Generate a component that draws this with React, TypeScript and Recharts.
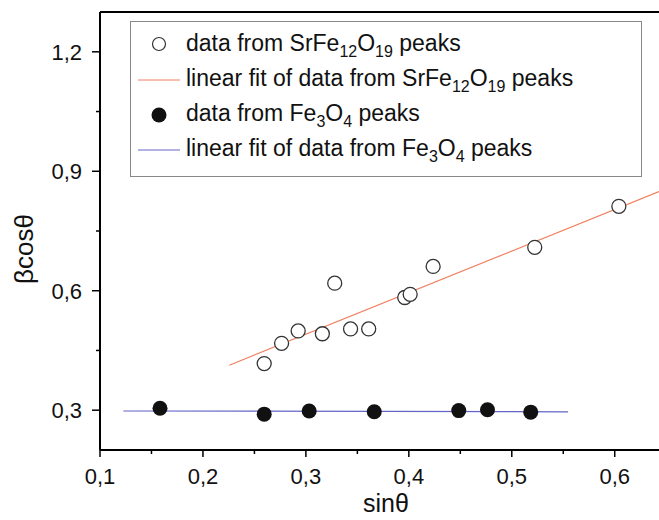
import React from "react";
import {
  ComposedChart,
  Scatter,
  XAxis,
  YAxis,
  ReferenceLine,
  Legend,
} from "recharts";

// SrFe12O19 peaks (open circles)
const srX = [0.2595, 0.2764, 0.2925, 0.316, 0.328, 0.3434, 0.361, 0.396, 0.4013, 0.4236, 0.5223, 0.604];
const srY = [0.417, 0.468, 0.499, 0.492, 0.619, 0.504, 0.504, 0.583, 0.591, 0.661, 0.709, 0.812];

// Fe3O4 peaks (filled circles)
const feX = [0.1583, 0.2595, 0.3032, 0.3664, 0.4485, 0.4764, 0.5184];
const feY = [0.305, 0.29, 0.298, 0.296, 0.299, 0.301, 0.295];

// linear fits (end points)
const srFitX = [0.2256, 0.643];
const srFitY = [0.413, 0.849];
const feFitX = [0.1227, 0.5547];
const feFitY = [0.298, 0.296];

const xTicks = [0.1, 0.15, 0.2, 0.25, 0.3, 0.35, 0.4, 0.45, 0.5, 0.55, 0.6];
const yTicks = [0.3, 0.45, 0.6, 0.75, 0.9, 1.05, 1.2];

const FONT = "'Liberation Sans', Arial, sans-serif";
const RED = "#f08060";
const BLUE = "#6464c8";

const toPts = (xs: number[], ys: number[]) => xs.map((x, i) => ({ x, y: ys[i] }));

const srData = toPts(srX, srY);
const feData = toPts(feX, feY);
const srFit = toPts(srFitX, srFitY);
const feFit = toPts(feFitX, feFitY);

const fmt = (v: number) => v.toFixed(1).replace(".", ",");

function XTick(props: any) {
  const { x, y, payload } = props;
  const major = Math.round(payload.value * 100) % 10 === 0;
  return (
    <g>
      <line x1={x} x2={x} y1={y} y2={y + (major ? 7 : 4)} stroke="#000" strokeWidth={1.5} />
      {major && (
        <text x={x} y={y + 34} textAnchor="middle" fontSize={22} fontFamily={FONT} fill="#111">
          {fmt(payload.value)}
        </text>
      )}
    </g>
  );
}

function YTick(props: any) {
  const { x, y, payload } = props;
  const major = Math.round(payload.value * 100) % 30 === 0;
  return (
    <g>
      <line x1={x - (major ? 8 : 4)} x2={x} y1={y} y2={y} stroke="#000" strokeWidth={1.5} />
      {major && (
        <text x={x - 18} y={y + 8} textAnchor="end" fontSize={22} fontFamily={FONT} fill="#111">
          {fmt(payload.value)}
        </text>
      )}
    </g>
  );
}

const OpenDot = (p: any) => (
  <circle cx={p.cx} cy={p.cy} r={7} fill="#fff" stroke="#333" strokeWidth={1.3} />
);
const FilledDot = (p: any) => <circle cx={p.cx} cy={p.cy} r={7.5} fill="#111" />;
const NoDot = () => <g />;

function Label({ x, y, parts }: { x: number; y: number; parts: [string, boolean][] }) {
  return (
    <text x={x} y={y} fontSize={23} fontFamily={FONT} fill="#111">
      {parts.map(([t, sub], i) => (
        <tspan
          key={i}
          fontSize={sub ? 16 : 23}
          dy={i === 0 ? 0 : sub ? 6 : parts[i - 1][1] ? -6 : 0}
        >
          {t}
        </tspan>
      ))}
    </text>
  );
}

function LegendBox() {
  return (
    <svg width={512} height={156} style={{ display: "block" }}>
      <rect x={0.5} y={0.5} width={511} height={155} fill="#fff" stroke="#888" />
      <circle cx={29} cy={23} r={6.5} fill="#fff" stroke="#333" strokeWidth={1.2} />
      <Label x={56} y={30} parts={[["data from SrFe", false], ["12", true], ["O", false], ["19", true], [" peaks", false]]} />
      <line x1={8} x2={50} y1={59} y2={59} stroke={RED} strokeWidth={1} />
      <Label
        x={56}
        y={65}
        parts={[["linear fit of data from SrFe", false], ["12", true], ["O", false], ["19", true], [" peaks", false]]}
      />
      <circle cx={29} cy={94} r={7.5} fill="#111" />
      <Label x={56} y={100} parts={[["data from Fe", false], ["3", true], ["O", false], ["4", true], [" peaks", false]]} />
      <line x1={8} x2={50} y1={129} y2={129} stroke={BLUE} strokeWidth={1} />
      <Label
        x={56}
        y={135}
        parts={[["linear fit of data from Fe", false], ["3", true], ["O", false], ["4", true], [" peaks", false]]}
      />
    </svg>
  );
}

export default function App() {
  return (
    <div style={{ position: "absolute", left: 0, top: 0, width: 659, height: 520, background: "#fff" }}>
      <ComposedChart width={659} height={520} margin={{ top: 12, right: 0, bottom: 0, left: 0 }}>
        <XAxis
          type="number"
          dataKey="x"
          domain={[0.1, 0.643]}
          allowDataOverflow
          ticks={xTicks}
          interval={0}
          height={70}
          tickSize={0}
          tickMargin={0}
          tickLine={false}
          axisLine={{ stroke: "#000", strokeWidth: 2 }}
          tick={<XTick />}
        />
        <YAxis
          type="number"
          dataKey="y"
          domain={[0.2, 1.3]}
          allowDataOverflow
          ticks={yTicks}
          interval={0}
          width={100}
          tickSize={0}
          tickMargin={0}
          tickLine={false}
          axisLine={{ stroke: "#000", strokeWidth: 2 }}
          tick={<YTick />}
        />
        <ReferenceLine y={1.3} stroke="#000" strokeWidth={2} ifOverflow="visible" />
        <Scatter data={srFit} line={{ stroke: RED, strokeWidth: 1.2 }} shape={NoDot} isAnimationActive={false} />
        <Scatter data={feFit} line={{ stroke: BLUE, strokeWidth: 1.2 }} shape={NoDot} isAnimationActive={false} />
        <Scatter data={srData} shape={OpenDot} isAnimationActive={false} />
        <Scatter data={feData} shape={FilledDot} isAnimationActive={false} />
        <Legend
          layout="horizontal"
          verticalAlign="middle"
          wrapperStyle={{ top: 21, left: 130, width: 512, height: 156 }}
          content={() => <LegendBox />}
        />
        <text x={386} y={512} textAnchor="middle" fontSize={25} fontFamily={FONT} fill="#111">
          sinθ
        </text>
        <text
          x={33}
          y={249}
          transform="rotate(-90 33 249)"
          textAnchor="middle"
          fontSize={26}
          fontFamily={FONT}
          fill="#111"
        >
          βcosθ
        </text>
      </ComposedChart>
    </div>
  );
}
